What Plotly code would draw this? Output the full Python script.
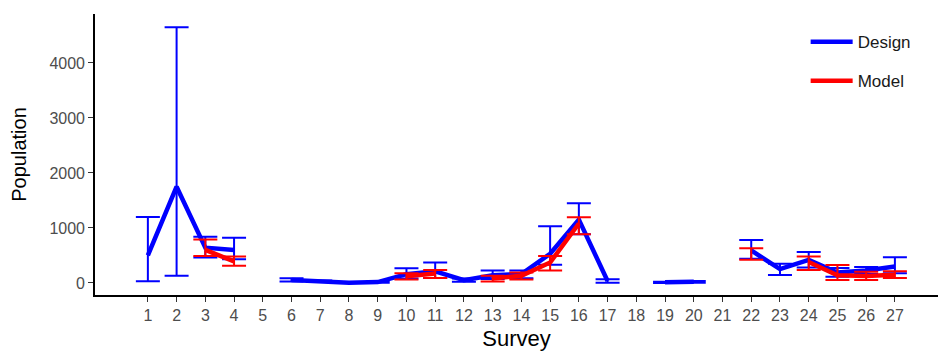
import plotly.graph_objects as go

surveys = list(range(1, 28))
nan = None

# Design-based population estimates with interval bounds
design_est = [500, 1750, 640, 600, nan, 55, 30, 5, 15, 160, 210, 50, 140, 160,
              530, 1150, 35, nan, 10, 20, nan, 590, 250, 420, 190, 225, 300]
design_lo = [30, 130, 460, 430, nan, 25, 15, 0, 5, 80, 90, 20, 70, 85,
             330, 885, 5, nan, 0, 5, nan, 440, 145, 280, 110, 160, 175]
design_hi = [1200, 4650, 840, 820, nan, 85, 45, 10, 25, 265, 370, 80, 225, 225,
             1030, 1450, 65, nan, 20, 35, nan, 780, 350, 560, 270, 290, 465]

# Model-based population estimates with interval bounds
model_est = [nan, nan, 600, 390, nan, nan, nan, nan, nan, 120, 170, nan, 80, 130,
             370, 1080, nan, nan, nan, nan, nan, 530, nan, 380, 140, 125, 150]
model_lo = [nan, nan, 490, 310, nan, nan, nan, nan, nan, 60, 90, nan, 25, 60,
            225, 885, nan, nan, nan, nan, nan, 420, nan, 235, 55, 55, 90]
model_hi = [nan, nan, 790, 480, nan, nan, nan, nan, nan, 175, 235, nan, 130, 190,
            490, 1195, nan, nan, nan, nan, nan, 630, nan, 480, 325, 205, 210]

y_ticks = [0, 1000, 2000, 3000, 4000]


def err_parts(est, lo, hi):
    plus, minus = [], []
    for e, l, h in zip(est, lo, hi):
        if e is None:
            plus.append(None)
            minus.append(None)
        else:
            plus.append(h - e)
            minus.append(e - l)
    return plus, minus


fig = go.Figure()

for name, color, est, lo, hi in [
    ("Design", "#0000FF", design_est, design_lo, design_hi),
    ("Model", "#FF0000", model_est, model_lo, model_hi),
]:
    plus, minus = err_parts(est, lo, hi)
    fig.add_trace(go.Scatter(
        x=surveys, y=est, mode="lines", name=name, legendgroup=name,
        line=dict(color=color, width=4.5),
        connectgaps=False,
        error_y=dict(type="data", symmetric=False, array=plus, arrayminus=minus,
                     color=color, thickness=2, width=12),
    ))

fig.update_layout(
    width=940, height=352,
    margin=dict(l=95, r=2, t=14, b=57),
    paper_bgcolor="white", plot_bgcolor="white",
    font=dict(family="Liberation Sans, Arial, sans-serif", color="#4d4d4d", size=16),
    showlegend=True,
    legend=dict(x=0.843, y=0.964, xanchor="left", yanchor="top",
                bgcolor="rgba(0,0,0,0)", tracegroupgap=14, itemwidth=42,
                font=dict(size=17, color="#1a1a1a")),
)

fig.update_xaxes(
    range=[-0.84, 28.5], tickmode="array", tickvals=surveys,
    ticktext=[str(s) for s in surveys],
    showline=True, linecolor="black", linewidth=1.6,
    ticks="outside", ticklen=5, tickcolor="#333333", tickwidth=1.2,
    showgrid=False, zeroline=False,
    tickfont=dict(size=16, color="#4d4d4d"),
    title=dict(text="Survey", font=dict(size=22, color="black"), standoff=8),
)
fig.update_yaxes(
    range=[-220, 4890], tickmode="array", tickvals=y_ticks,
    showline=True, linecolor="black", linewidth=1.6,
    ticks="outside", ticklen=5, tickcolor="#333333", tickwidth=1.2,
    showgrid=False, zeroline=False,
    tickfont=dict(size=16, color="#4d4d4d"),
    title=dict(text="Population", font=dict(size=20, color="black"), standoff=17),
)

fig.write_html("out.html")
